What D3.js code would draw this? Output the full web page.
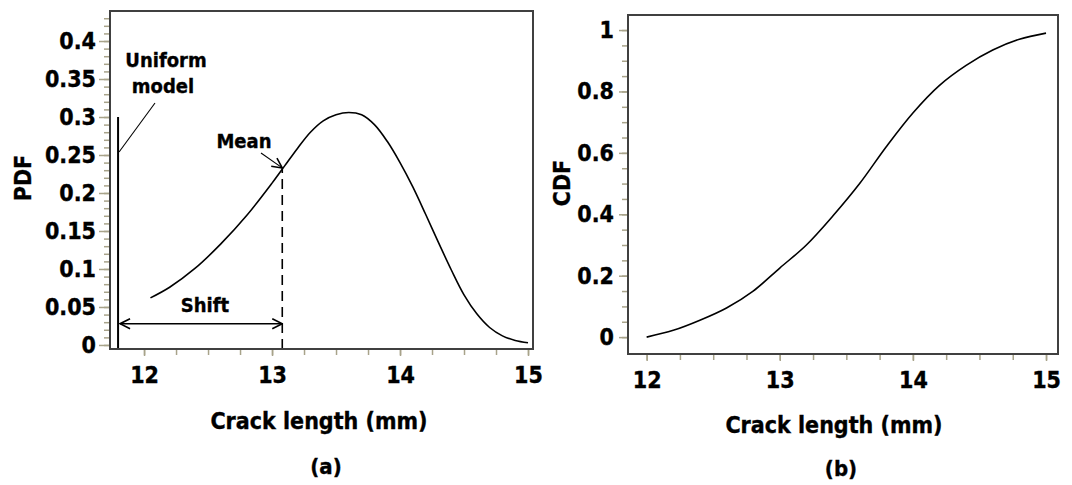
<!DOCTYPE html>
<html>
<head>
<meta charset="utf-8">
<script src="https://cdn.jsdelivr.net/npm/d3@7"></script>
<style>
  html, body { margin: 0; padding: 0; background: #fff; }
  svg text {
    font-family: "DejaVu Sans Condensed", "DejaVu Sans", sans-serif;
    font-stretch: condensed;
    font-weight: bold;
    fill: #000;
    stroke: #000;
    stroke-width: 0.35px;
  }
</style>
</head>
<body>
<div id="chart"></div>
<script>
// ── Data ─────────────────────────────────────────────────────────────────
const pdfX = [12.05, 12.2, 12.4, 12.6, 12.8, 13.0, 13.1, 13.2, 13.3, 13.4, 13.5, 13.6,
  13.7, 13.8, 13.9, 14.0, 14.1, 14.2, 14.3, 14.4, 14.5, 14.6, 14.7, 14.8, 14.9, 15.0];
const pdfY = [0.062, 0.076, 0.101, 0.133, 0.17, 0.213, 0.236, 0.259, 0.28, 0.295, 0.303, 0.306,
  0.303, 0.29, 0.268, 0.24, 0.208, 0.172, 0.135, 0.099, 0.066, 0.041, 0.023, 0.012, 0.006, 0.003];

const cdfX = [12.0, 12.2, 12.4, 12.6, 12.8, 13.0, 13.2, 13.4, 13.6, 13.8, 14.0, 14.2, 14.4, 14.6, 14.8, 15.0];
const cdfY = [0.0, 0.022, 0.055, 0.095, 0.15, 0.225, 0.3, 0.395, 0.5, 0.62, 0.73, 0.82, 0.885, 0.935, 0.97, 0.99];

const uniformX = 11.797;   // uniform model position
const uniformTop = 0.3;
const meanX = 13.08;       // mean crack length
const meanY = 0.233;
const shiftY = 0.028;

const xTicks = [12, 13, 14, 15];
const pdfTicks = [0, 0.05, 0.1, 0.15, 0.2, 0.25, 0.3, 0.35, 0.4];
const cdfTicks = [0, 0.2, 0.4, 0.6, 0.8, 1];
const xTitle = "Crack length (mm)";

// ── SVG ──────────────────────────────────────────────────────────────────
const svg = d3.select("#chart")
  .append("svg")
  .attr("width", 1072)
  .attr("height", 485);

const tickColor = "#a8a38a";

function drawFrame(sx, sy) {
  const [x0, x1] = sx.range();
  const [y1, y0] = sy.range();
  svg.append("rect")
    .attr("x", x0).attr("y", y0)
    .attr("width", x1 - x0).attr("height", y1 - y0)
    .attr("fill", "none")
    .attr("stroke", "#404040")
    .attr("stroke-width", 2);
}

function drawXAxis(sx, sy, minor) {
  const y = sy.range()[0];
  svg.append("g")
    .attr("transform", `translate(0,${y + 1})`)
    .call(d3.axisBottom(sx).tickValues(minor).tickSize(5).tickFormat(""))
    .call((g) => g.select(".domain").remove())
    .call((g) => g.selectAll("line").attr("stroke", tickColor).attr("stroke-width", 1.5));
  svg.append("g")
    .attr("transform", `translate(0,${y + 1})`)
    .call(d3.axisBottom(sx).tickValues(xTicks).tickSize(6).tickPadding(11).tickFormat(d3.format("d")))
    .call((g) => g.select(".domain").remove())
    .call((g) => g.selectAll("line").attr("stroke", tickColor).attr("stroke-width", 1.5))
    .call((g) => g.selectAll("text").style("font-size", "23px"));
}

function drawYAxis(sx, sy, ticks, minor, fmt, majorLen, minorLen, pad) {
  const x = sx.range()[0];
  svg.append("g")
    .attr("transform", `translate(${x - 1},0)`)
    .call(d3.axisLeft(sy).tickValues(minor).tickSize(minorLen).tickFormat(""))
    .call((g) => g.select(".domain").remove())
    .call((g) => g.selectAll("line").attr("stroke", tickColor).attr("stroke-width", 1.5));
  svg.append("g")
    .attr("transform", `translate(${x - 1},0)`)
    .call(d3.axisLeft(sy).tickValues(ticks).tickSize(majorLen).tickPadding(pad).tickFormat(fmt))
    .call((g) => g.select(".domain").remove())
    .call((g) => g.selectAll("line").attr("stroke", tickColor).attr("stroke-width", 1.5))
    .call((g) => g.selectAll("text").style("font-size", "23px"));
}

const fmtNum = (d) => String(+d.toFixed(2));

// ── Panel (a): PDF ───────────────────────────────────────────────────────
const xA = d3.scaleLinear().domain([11.734, 15.039]).range([110, 533]);
const yA = d3.scaleLinear().domain([-0.0053, 0.4395]).range([349, 11]);

drawYAxis(xA, yA, pdfTicks, d3.range(0, 0.44, 0.01), fmtNum, 10, 5, 3);
drawXAxis(xA, yA, d3.range(12, 15.01, 0.25));

const pdfLine = d3.line()
  .x((d) => xA(d[0]))
  .y((d) => yA(d[1]))
  .curve(d3.curveCatmullRom.alpha(0.5));

svg.append("path")
  .datum(d3.zip(pdfX, pdfY))
  .attr("d", pdfLine)
  .attr("fill", "none")
  .attr("stroke", "#000")
  .attr("stroke-width", 1.6);

// uniform model bar
svg.append("line")
  .attr("x1", xA(uniformX)).attr("x2", xA(uniformX))
  .attr("y1", yA.range()[0]).attr("y2", yA(uniformTop))
  .attr("stroke", "#000").attr("stroke-width", 2);

// mean dashed line
svg.append("line")
  .attr("x1", xA(meanX)).attr("x2", xA(meanX))
  .attr("y1", yA.range()[0]).attr("y2", yA(meanY))
  .attr("stroke", "#000").attr("stroke-width", 1.6)
  .attr("stroke-dasharray", "10,6");

// arrow marker
const defs = svg.append("defs");
defs.append("marker")
  .attr("id", "arr")
  .attr("viewBox", "0 0 12 12")
  .attr("refX", 11).attr("refY", 6)
  .attr("markerWidth", 12).attr("markerHeight", 12)
  .attr("markerUnits", "userSpaceOnUse")
  .attr("orient", "auto-start-reverse")
  .append("path")
  .attr("d", "M1,1 L11,6 L1,11")
  .attr("fill", "none")
  .attr("stroke", "#000")
  .attr("stroke-width", 1.6);

// shift arrow
svg.append("line")
  .attr("x1", xA(uniformX) + 2).attr("x2", xA(meanX))
  .attr("y1", yA(shiftY)).attr("y2", yA(shiftY))
  .attr("stroke", "#000").attr("stroke-width", 1.6)
  .attr("marker-start", "url(#arr)")
  .attr("marker-end", "url(#arr)");

svg.append("text")
  .attr("x", 205).attr("y", 312)
  .attr("text-anchor", "middle")
  .style("font-size", "20px")
  .text("Shift");

// mean label + leader
svg.append("line")
  .attr("x1", 261).attr("y1", 153)
  .attr("x2", xA(meanX)).attr("y2", yA(meanY))
  .attr("stroke", "#000").attr("stroke-width", 1.1)
  .attr("marker-end", "url(#arr)");

svg.append("text")
  .attr("x", 244).attr("y", 148)
  .attr("text-anchor", "middle")
  .style("font-size", "20px")
  .text("Mean");

// uniform model label + leader
svg.append("line")
  .attr("x1", 155).attr("y1", 103)
  .attr("x2", xA(uniformX) + 1).attr("y2", 152)
  .attr("stroke", "#000").attr("stroke-width", 1.1);

svg.append("text")
  .attr("x", 166).attr("y", 67)
  .attr("text-anchor", "middle")
  .style("font-size", "20px")
  .text("Uniform");

svg.append("text")
  .attr("x", 163).attr("y", 93)
  .attr("text-anchor", "middle")
  .style("font-size", "20px")
  .text("model");

drawFrame(xA, yA);

svg.append("text")
  .attr("transform", "translate(31,178) rotate(-90)")
  .attr("text-anchor", "middle")
  .style("font-size", "23px")
  .text("PDF");

svg.append("text")
  .attr("x", 319).attr("y", 429)
  .attr("text-anchor", "middle")
  .style("font-size", "23px")
  .text(xTitle);

svg.append("text")
  .attr("x", 326).attr("y", 474)
  .attr("text-anchor", "middle")
  .style("font-size", "22px")
  .text("(a)");

// ── Panel (b): CDF ───────────────────────────────────────────────────────
const xB = d3.scaleLinear().domain([11.86, 15.09]).range([628, 1058]);
const yB = d3.scaleLinear().domain([-0.055, 1.049]).range([354, 15]);

drawYAxis(xB, yB, cdfTicks, d3.range(0, 1.01, 0.05), fmtNum, 8, 5, 5);
drawXAxis(xB, yB, d3.range(12, 15.01, 0.25));

const cdfLine = d3.line()
  .x((d) => xB(d[0]))
  .y((d) => yB(d[1]))
  .curve(d3.curveCatmullRom.alpha(0.5));

svg.append("path")
  .datum(d3.zip(cdfX, cdfY))
  .attr("d", cdfLine)
  .attr("fill", "none")
  .attr("stroke", "#000")
  .attr("stroke-width", 1.6);

drawFrame(xB, yB);

svg.append("text")
  .attr("transform", "translate(570,183) rotate(-90)")
  .attr("text-anchor", "middle")
  .style("font-size", "23px")
  .text("CDF");

svg.append("text")
  .attr("x", 834).attr("y", 433)
  .attr("text-anchor", "middle")
  .style("font-size", "23px")
  .text(xTitle);

svg.append("text")
  .attr("x", 841).attr("y", 476)
  .attr("text-anchor", "middle")
  .style("font-size", "22px")
  .text("(b)");
</script>
</body>
</html>
